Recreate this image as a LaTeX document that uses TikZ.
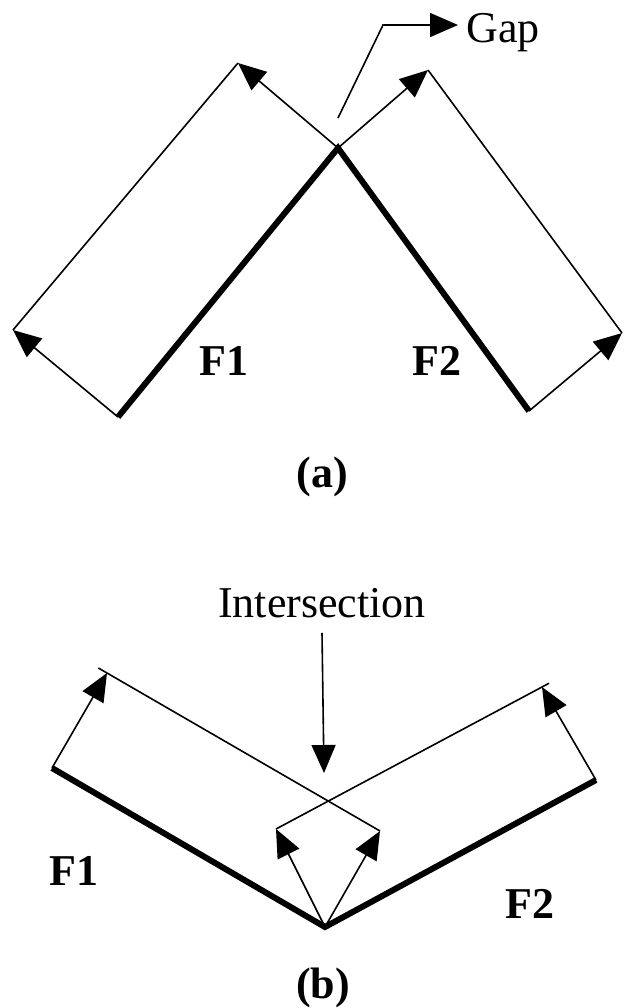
\documentclass[tikz,border=0pt]{standalone}
\usepackage{fontspec}
\setmainfont{Liberation Serif}
\usetikzlibrary{arrows.meta}

\begin{document}
\begin{tikzpicture}[
    x=0.5pt, y=-0.5pt,
    faultStyle/.style={line width=3pt},
    thinStyle/.style={line width=0.8pt},
    arrowStyle/.style={thinStyle, -{Triangle[length=14pt, width=12pt]}},
    labelStyle/.style={font=\fontsize{22}{26}\selectfont, inner sep=0pt},
    boldLabel/.style={labelStyle, font=\fontsize{22}{26}\selectfont\bfseries}
]
    \path[use as bounding box] (0,0) rectangle (625,1008);

    % (a) two faults leaving a gap
    \coordinate (aApex) at (338,148);
    \coordinate (aF1end) at (118,417);
    \coordinate (aF2end) at (529,411);
    \coordinate (aF1top) at (238,63);
    \coordinate (aF1left) at (13,330);
    \coordinate (aF2top) at (428,70);
    \coordinate (aF2right) at (622,333);
    \coordinate (gapFoot) at (338,118);
    \coordinate (gapBend) at (383,25);

    \draw[faultStyle] (aF1end) -- (aApex) -- (aF2end);
    \draw[arrowStyle] (aApex) -- (aF1top);
    \draw[arrowStyle] (aF1end) -- (aF1left);
    \draw[thinStyle] (aF1top) -- (aF1left);
    \draw[arrowStyle] (aApex) -- (aF2top);
    \draw[arrowStyle] (aF2end) -- (aF2right);
    \draw[thinStyle] (aF2top) -- (aF2right);

    \node[labelStyle, anchor=base west] (gapLabel) at (466,42) {Gap};
    \draw[arrowStyle] (gapFoot) -- (gapBend) -- ([xshift=-4pt]gapLabel.west |- gapBend);

    \node[boldLabel, anchor=base] (aF1label) at (224,375) {F1};
    \node[boldLabel, anchor=base] (aF2label) at (437,375) {F2};
    \node[boldLabel, anchor=base] (aCaption) at (322,487) {(a)};

    % (b) two faults that intersect
    \coordinate (bApex) at (325,927);
    \coordinate (bF1end) at (52,768);
    \coordinate (bF2end) at (596,780);
    \coordinate (bF1tip) at (107,673);
    \coordinate (bF1tipB) at (380,831);
    \coordinate (bF2tip) at (542,687);
    \coordinate (bF2tipB) at (276,829);
    \coordinate (intTip) at (324,773);

    \draw[faultStyle] (bF1end) -- (bApex) -- (bF2end);
    \draw[arrowStyle] (bF1end) -- (bF1tip);
    \draw[arrowStyle] (bApex) -- (bF1tipB);
    \draw[thinStyle, shorten <=-5pt] (bF1tip) -- (bF1tipB);
    \draw[arrowStyle] (bF2end) -- (bF2tip);
    \draw[arrowStyle] (bApex) -- (bF2tipB);
    \draw[thinStyle, shorten <=-4pt] (bF2tip) -- (bF2tipB);

    \node[labelStyle, anchor=base] (intLabel) at (322,617) {Intersection};
    \draw[arrowStyle] ([yshift=-7.5pt]intLabel.south) -- (intTip);

    \node[boldLabel, anchor=base] (bF1label) at (74,885) {F1};
    \node[boldLabel, anchor=base] (bF2label) at (530,918) {F2};
    \node[boldLabel, anchor=base] (bCaption) at (323,998) {(b)};
\end{tikzpicture}
\end{document}
